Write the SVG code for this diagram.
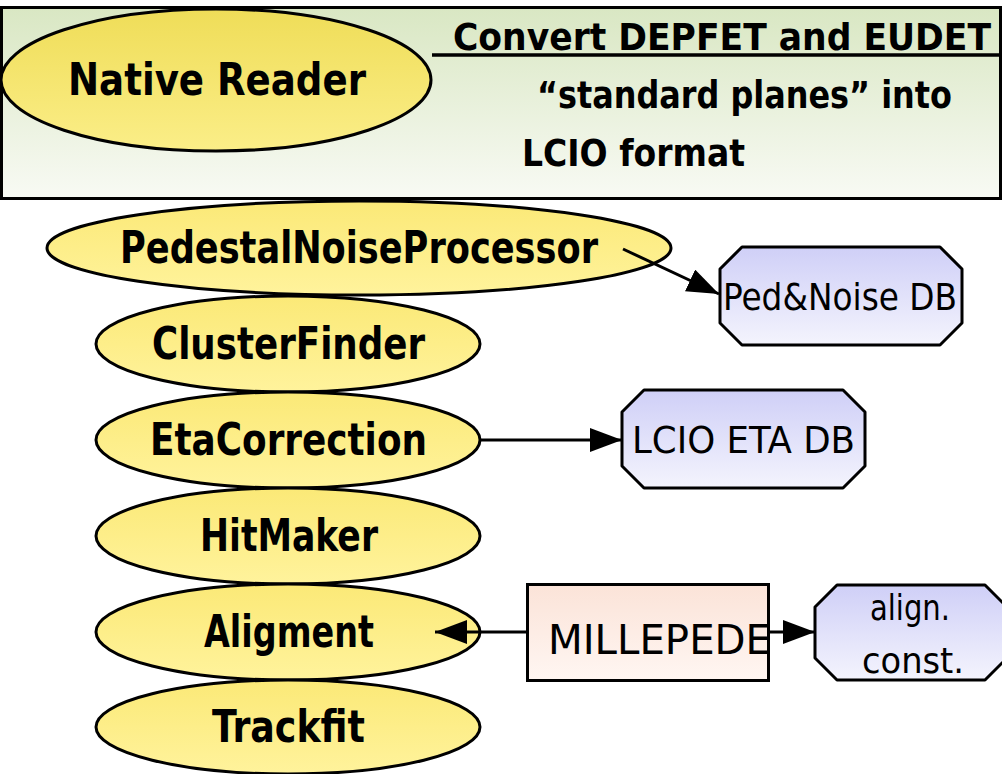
<svg xmlns="http://www.w3.org/2000/svg" width="1002" height="774" viewBox="0 0 1002 774">
<defs>
<linearGradient id="gBox" x1="0" y1="0" x2="0" y2="1"><stop offset="0" stop-color="#d9e7c3"/><stop offset="1" stop-color="#f8faf4"/></linearGradient>
<linearGradient id="gYel" x1="0" y1="0" x2="0" y2="1"><stop offset="0" stop-color="#efdd58"/><stop offset="1" stop-color="#fbee88"/></linearGradient>
<linearGradient id="gYel2" x1="0" y1="0" x2="0" y2="1"><stop offset="0" stop-color="#fbe977"/><stop offset="1" stop-color="#fff39c"/></linearGradient>
<linearGradient id="gLav" x1="0" y1="0" x2="0" y2="1"><stop offset="0" stop-color="#cfcff7"/><stop offset="1" stop-color="#f4f4fd"/></linearGradient>
<linearGradient id="gPeach" x1="0" y1="0" x2="0" y2="1"><stop offset="0" stop-color="#fbe3d8"/><stop offset="1" stop-color="#fff6f2"/></linearGradient>
<marker id="arr" viewBox="0 0 32 24" refX="32" refY="12" markerWidth="32" markerHeight="24" markerUnits="userSpaceOnUse" orient="auto"><path d="M0,0 L32,12 L0,24 Z" fill="#000"/></marker>
<style>
.ell{fill:url(#gYel2);stroke:#000;stroke-width:3}
.oct{fill:url(#gLav);stroke:#000;stroke-width:3;stroke-linejoin:round}
.bold{font-family:"DejaVu Sans Condensed","DejaVu Sans",sans-serif;font-weight:bold;fill:#000}
.thin{font-family:"DejaVu Sans Condensed","DejaVu Sans",sans-serif;font-weight:normal;fill:#000}
.con{stroke:#000;stroke-width:3;fill:none}
</style>
</defs>
<rect width="1002" height="774" fill="#fff"/>
<g id="header">
<rect x="1.5" y="7.5" width="999" height="191" fill="url(#gBox)" stroke="#000" stroke-width="3"/>
<line x1="432" y1="55" x2="1000" y2="55" stroke="#000" stroke-width="3.5"/>
<text class="bold" x="453" y="50" font-size="38" textLength="538" lengthAdjust="spacingAndGlyphs">Convert DEPFET and EUDET</text>
<text class="bold" x="537" y="108" font-size="37" textLength="415" lengthAdjust="spacingAndGlyphs">“standard planes”  into</text>
<text class="bold" x="522" y="166" font-size="38" textLength="223" lengthAdjust="spacingAndGlyphs">LCIO format</text>
</g>
<g id="native-reader">
<ellipse cx="216" cy="80" rx="215" ry="71" fill="url(#gYel)" stroke="#000" stroke-width="3"/>
<text class="bold" x="68" y="95" font-size="45" textLength="298" lengthAdjust="spacingAndGlyphs">Native  Reader</text>
</g>
<g id="pedestal">
<ellipse class="ell" cx="359" cy="248" rx="312" ry="47"/>
<text class="bold" x="120" y="263" font-size="45" textLength="478" lengthAdjust="spacingAndGlyphs">PedestalNoiseProcessor</text>
</g>
<g id="clusterfinder">
<ellipse class="ell" cx="288" cy="344" rx="192" ry="48"/>
<text class="bold" x="152" y="359" font-size="45" textLength="273" lengthAdjust="spacingAndGlyphs">ClusterFinder</text>
</g>
<g id="etacorrection">
<ellipse class="ell" cx="288" cy="440" rx="192" ry="48"/>
<text class="bold" x="150" y="455" font-size="45" textLength="277" lengthAdjust="spacingAndGlyphs">EtaCorrection</text>
</g>
<g id="hitmaker">
<ellipse class="ell" cx="288" cy="536" rx="192" ry="48"/>
<text class="bold" x="200" y="551" font-size="45" textLength="178" lengthAdjust="spacingAndGlyphs">HitMaker</text>
</g>
<g id="aligment">
<ellipse class="ell" cx="288" cy="632" rx="192" ry="48"/>
<text class="bold" x="204" y="647" font-size="45" textLength="170" lengthAdjust="spacingAndGlyphs">Aligment</text>
</g>
<g id="trackfit">
<ellipse class="ell" cx="288" cy="727" rx="192" ry="47"/>
<text class="bold" x="212" y="742" font-size="45" textLength="153" lengthAdjust="spacingAndGlyphs">Trackfit</text>
</g>
<g id="pednoise-db">
<polygon class="oct" points="742,247 940,247 962,269 962,323 940,345 742,345 720,323 720,269"/>
<text class="thin" x="723" y="310" font-size="38" textLength="234" lengthAdjust="spacingAndGlyphs">Ped&amp;Noise DB</text>
</g>
<g id="lcio-eta-db">
<polygon class="oct" points="644,390 843,390 865,412 865,466 843,488 644,488 622,466 622,412"/>
<text class="thin" x="632" y="453" font-size="38" textLength="223" lengthAdjust="spacingAndGlyphs">LCIO ETA DB</text>
</g>
<g id="millepede">
<rect x="527.5" y="584.5" width="241" height="96" fill="url(#gPeach)" stroke="#000" stroke-width="3"/>
<text class="thin" x="548" y="654" font-size="40" textLength="223" lengthAdjust="spacingAndGlyphs">MILLEPEDE</text>
</g>
<g id="align-const">
<polygon class="oct" points="837,585 985,585 1007,607 1007,658 985,680 837,680 815,658 815,607"/>
<text class="thin" x="910" y="620" font-size="36" text-anchor="middle" textLength="80" lengthAdjust="spacingAndGlyphs">align.</text>
<text class="thin" x="913" y="673" font-size="36" text-anchor="middle" textLength="102" lengthAdjust="spacingAndGlyphs">const.</text>
</g>
<g id="connectors">
<line class="con" x1="623" y1="249" x2="719" y2="294" marker-end="url(#arr)"/>
<line class="con" x1="480" y1="440" x2="622" y2="440" marker-end="url(#arr)"/>
<line class="con" x1="527" y1="632" x2="435" y2="632" marker-end="url(#arr)"/>
<line class="con" x1="769" y1="632" x2="815" y2="632" marker-end="url(#arr)"/>
</g>
</svg>
